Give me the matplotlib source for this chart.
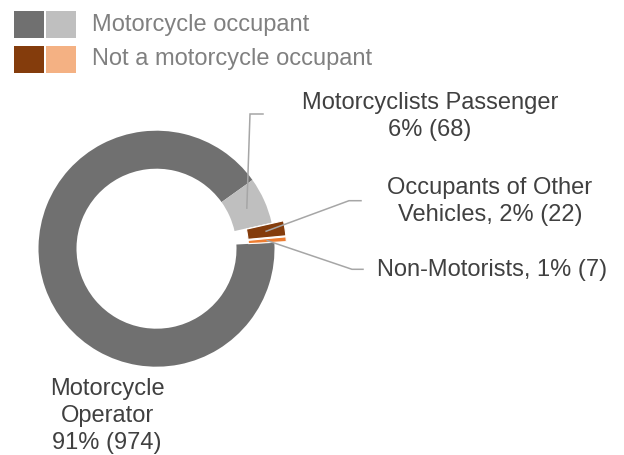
import numpy as np
import matplotlib
matplotlib.use('Agg')
import matplotlib.pyplot as plt
from matplotlib.patches import Rectangle

plt.rcParams['font.family'] = ['Liberation Sans', 'DejaVu Sans']

# data
categories = ['Motorcycle Operator', 'Motorcyclists Passenger',
              'Occupants of Other Vehicles', 'Non-Motorists']
counts = [974, 68, 22, 7]
label_fmt = ['Motorcycle\nOperator\n{p}% ({n})',
             'Motorcyclists Passenger\n{p}% ({n})',
             'Occupants of Other\nVehicles, {p}% ({n})',
             'Non-Motorists, {p}% ({n})']
legend_groups = ['Motorcycle occupant', 'Not a motorcycle occupant']

slice_colors = ['#707070', '#BFBFBF', '#843C0C', '#ED7D31']
legend_colors = [('#707070', '#BFBFBF'), ('#843C0C', '#F4B183')]

W, H = 624, 455
fig = plt.figure(figsize=(W / 100, H / 100), dpi=100)
ax = fig.add_axes([0, 0, 1, 1])

cx, cy, R = 156.5, H - 248.7, 118
ring = 38
# pie explode is in data units here (pixels)
explode = [0, 0, 12, 12]

wedges, _ = ax.pie(counts, colors=slice_colors, explode=explode,
                   startangle=3.0, counterclock=False,
                   center=(cx, cy), radius=R,
                   wedgeprops=dict(width=ring, linewidth=0))
for w, e in zip(wedges, explode):
    if e > 0:
        w.set_edgecolor('white')
        w.set_linewidth(0.8)

ax.set_xlim(0, W)
ax.set_ylim(0, H)
ax.set_aspect('auto')
ax.axis('off')

total = sum(counts)
texts = [f.format(p=int(round(100 * n / total)), n=n) for f, n in zip(label_fmt, counts)]

# label positions (pixels from top-left), leader elbow / end points
label_pos = [(107, 416), (430, 116.5), (490, 201.7), (492.5, 270)]
leaders = [None, ((250, 114), (263, 114)), ((349, 200.7), (361, 200.7)),
           ((352, 269.3), (363, 269.3))]

text_color = '#404040'
line_color = '#A6A6A6'
for i, w in enumerate(wedges):
    lx, ly = label_pos[i]
    ax.text(lx, H - ly, texts[i], ha='center', va='center', fontsize=17,
            color=text_color, linespacing=1.3)
    if leaders[i] is None:
        continue
    mid = np.deg2rad((w.theta1 + w.theta2) / 2)
    r0 = R - ring / 2
    sx = w.center[0] + r0 * np.cos(mid)
    sy = w.center[1] + r0 * np.sin(mid)
    (ex, ey), (tx, ty) = leaders[i]
    ax.plot([sx, ex, tx], [sy, H - ey, H - ty], color=line_color, lw=1.1,
            solid_joinstyle='miter')

# legend drawn by hand
for k, (grp, (c1, c2)) in enumerate(zip(legend_groups, legend_colors)):
    top = 11 + k * 35
    ax.add_patch(Rectangle((14, H - top - 27), 30, 27, color=c1, lw=0, clip_on=False))
    ax.add_patch(Rectangle((46, H - top - 27), 30, 27, color=c2, lw=0, clip_on=False))
    ax.text(92, H - top - 13.5, grp, ha='left', va='center', fontsize=17,
            color='#808080')

fig.savefig('out.png', dpi=100)
